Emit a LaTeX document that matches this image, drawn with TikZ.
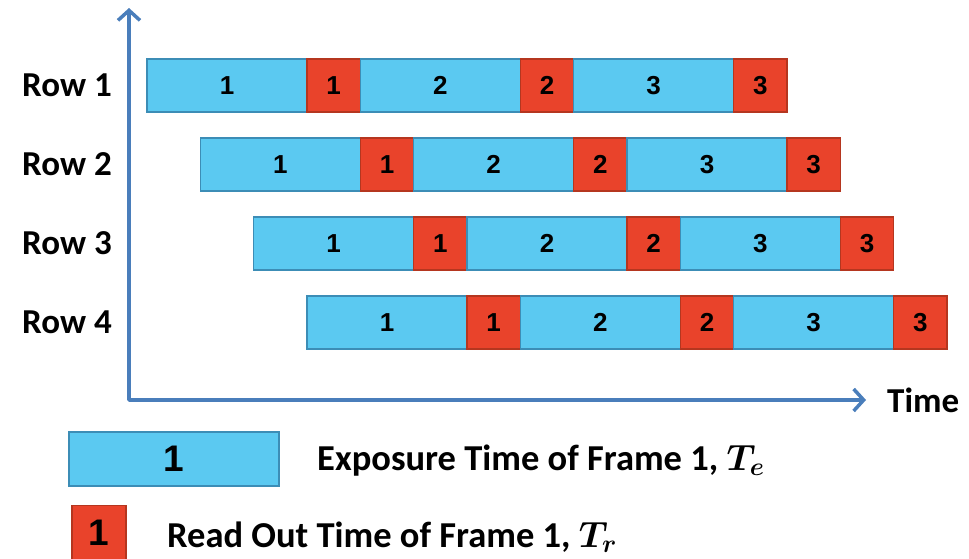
\documentclass[tikz,border=0pt]{standalone}
\usepackage{fix-cm}
\usepackage{fontspec}
\setmainfont{Carlito}
\newfontfamily\digitfont{Liberation Sans}
\usetikzlibrary{arrows.meta, positioning}

\definecolor{expblue}{HTML}{5BC9F1}
\definecolor{expedge}{HTML}{3C8DB6}
\definecolor{readred}{HTML}{E9432B}
\definecolor{readedge}{HTML}{B5361F}
\definecolor{axisblue}{HTML}{4A7EBB}

\begin{document}
\begin{tikzpicture}[
    x=1pt, y=-1pt,
    exposure/.style={rectangle, draw=expedge, fill=expblue, line width=1.2pt, minimum width=160pt, minimum height=53pt, inner sep=0pt, outer sep=0pt, font=\digitfont\bfseries\fontsize{26}{26}\selectfont},
    readout/.style={rectangle, draw=readedge, fill=readred, line width=1.2pt, minimum width=53.33pt, minimum height=53pt, inner sep=0pt, outer sep=0pt, font=\digitfont\bfseries\fontsize{26}{26}\selectfont},
    rowlabel/.style={anchor=east, inner sep=0pt, font=\bfseries\fontsize{35}{35}\selectfont},
    legendtext/.style={anchor=base west, inner sep=0pt, font=\bfseries\boldmath\fontsize{36.5}{36.5}\selectfont},
    axis/.style={draw=axisblue, line width=3.5pt, line join=round, {Straight Barb[length=10pt, width=22pt]}-{Straight Barb[length=10pt, width=22pt]}}
]
\useasboundingbox (0,0) rectangle (969,558);

% Time axes
\coordinate (origin) at (129,400);
\coordinate (ytip) at (129,8);
\coordinate (xtip) at (866,400);
\draw[axis] (ytip) |- (xtip);
\node[anchor=west, inner sep=0pt, font=\bfseries\fontsize{35}{35}\selectfont] (timelabel) at (887,400) {Time};

% One row of frames, each row shifted by one read out slot
\foreach \r [evaluate=\r as \ry using 85.5+79*(\r-1),
             evaluate=\r as \rx using 147+53.33*(\r-1)] in {1,...,4} {
  \node[rowlabel] (row\r) at (112,\ry) {Row \r};
  \node[exposure, anchor=west] (exp\r a) at (\rx,\ry) {1};
  \node[readout, right=0pt of exp\r a] (rd\r a) {1};
  \node[exposure, right=0pt of rd\r a] (exp\r b) {2};
  \node[readout, right=0pt of exp\r b] (rd\r b) {2};
  \node[exposure, right=0pt of rd\r b] (exp\r c) {3};
  \node[readout, right=0pt of exp\r c] (rd\r c) {3};
}

% Legend
\node[exposure, minimum width=210pt, minimum height=54pt, font=\digitfont\bfseries\fontsize{37}{37}\selectfont] (legexp) at (174,459) {1};
\node[readout, minimum width=54pt, minimum height=54pt, font=\digitfont\bfseries\fontsize{37}{37}\selectfont] (legrd) at (99,532.5) {1};
\node[legendtext] (legexptext) at (317,470) {Exposure Time of Frame 1, $T_e$};
\node[legendtext] (legrdtext) at (167,547) {Read Out Time of Frame 1, $T_r$};

\end{tikzpicture}
\end{document}
